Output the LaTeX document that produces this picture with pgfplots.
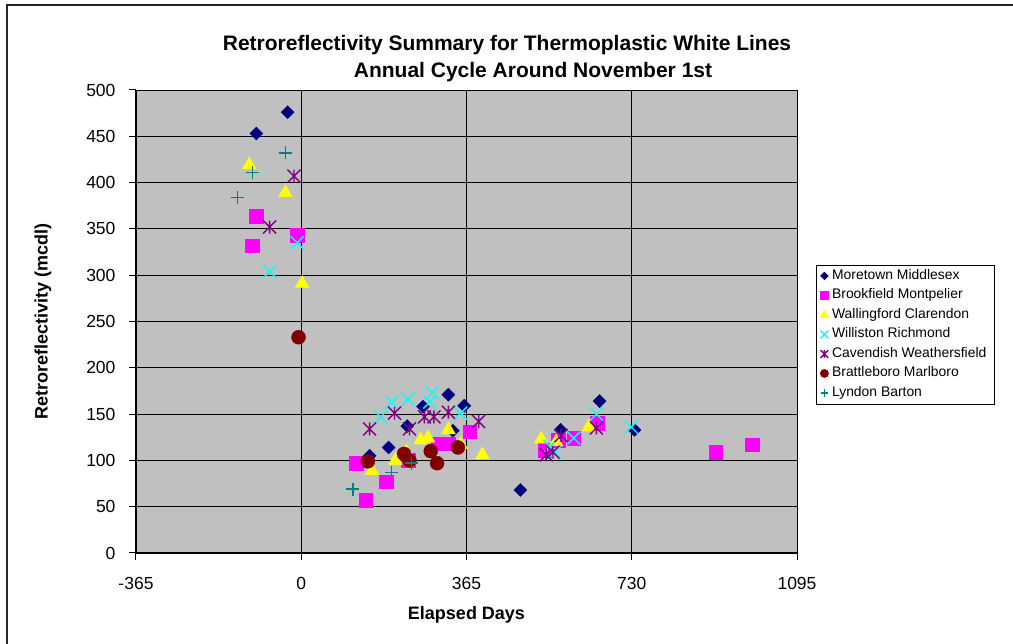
\documentclass[border=0pt]{standalone}
\usepackage{pgfplots}
\pgfplotsset{compat=1.18}
\usepackage{fontspec}
\setmainfont{Liberation Sans}

\definecolor{plotbg}{RGB}{192,192,192}
\definecolor{cnavy}{RGB}{0,0,128}
\definecolor{cmagenta}{RGB}{255,0,255}
\definecolor{cyellow}{RGB}{255,255,0}
\definecolor{ccyan}{RGB}{0,255,255}
\definecolor{cpurple}{RGB}{128,0,128}
\definecolor{cmaroon}{RGB}{128,0,0}
\definecolor{cteal}{RGB}{0,128,128}

% Excel style star: an x with a vertical bar through it
\pgfdeclareplotmark{xstar}{%
  \pgfpathmoveto{\pgfqpoint{-\pgfplotmarksize}{-\pgfplotmarksize}}%
  \pgfpathlineto{\pgfqpoint{\pgfplotmarksize}{\pgfplotmarksize}}%
  \pgfpathmoveto{\pgfqpoint{-\pgfplotmarksize}{\pgfplotmarksize}}%
  \pgfpathlineto{\pgfqpoint{\pgfplotmarksize}{-\pgfplotmarksize}}%
  \pgfpathmoveto{\pgfqpoint{0pt}{-\pgfplotmarksize}}%
  \pgfpathlineto{\pgfqpoint{0pt}{\pgfplotmarksize}}%
  \pgfusepathqstroke}
% Excel style x
\pgfdeclareplotmark{xcross}{%
  \pgfpathmoveto{\pgfqpoint{-\pgfplotmarksize}{-\pgfplotmarksize}}%
  \pgfpathlineto{\pgfqpoint{\pgfplotmarksize}{\pgfplotmarksize}}%
  \pgfpathmoveto{\pgfqpoint{-\pgfplotmarksize}{\pgfplotmarksize}}%
  \pgfpathlineto{\pgfqpoint{\pgfplotmarksize}{-\pgfplotmarksize}}%
  \pgfusepathqstroke}

\begin{document}
\begin{tikzpicture}
\path[use as bounding box] (0pt,0pt) rectangle (1013pt,644pt);
\draw[line width=2pt, black!85] (7pt,0pt) -- (7pt,639pt) -- (1013pt,639pt);

\begin{axis}[
    at={(136pt,91pt)}, anchor=south west,
    scale only axis,
    width=661pt, height=463pt,
    xmin=-365, xmax=1095,
    ymin=0, ymax=500,
    xtick={-365,0,365,730,1095},
    xticklabels={-365,0,365,730,1095},
    ytick={0,50,100,150,200,250,300,350,400,450,500},
    yticklabels={0,50,100,150,200,250,300,350,400,450,500},
    axis lines*=left,
    axis line style={black, line width=1pt},
    axis background/.style={fill=plotbg},
    tick align=outside,
    major tick length=7pt,
    tick style={black, line width=1pt},
    grid=major,
    major grid style={black, line width=0.9pt},
    ticklabel style={font=\fontsize{17.5}{20}\selectfont},
    xticklabel style={yshift=-14pt},
    yticklabel style={xshift=-10pt},
    xlabel={Elapsed Days},
    ylabel={Retroreflectivity (mcdl)},
    label style={font=\bfseries\fontsize{18}{21}\selectfont},
    xlabel style={at={(axis description cs:0.5,-0.1339)}, anchor=center},
    ylabel style={at={(axis description cs:-0.1407,0.5)}, anchor=center},
    clip=false,
    legend style={at={(axis description cs:1,0.622)}, anchor=north west,
        xshift=19pt, draw=black, fill=white,
        font=\fontsize{13.9}{15}\selectfont,
        nodes={inner sep=3.5pt, text height=9.5pt, text depth=3pt},
        inner xsep=4pt, inner ysep=1pt},
    legend cell align=left,
    legend image post style={/tikz/every mark/.append style={scale=0.6}},
]
% Moretown Middlesex
\addplot[only marks, mark=square*, mark size=4.6pt,
    mark options={rotate=45, fill=cnavy, draw=cnavy}] coordinates {
    (-30,476) (-99,453) (325,171) (269,158) (360,159) (234,137) (335,132)
    (193,114) (151,105) (484,68) (659,164) (573,133) (736,133)
};
\addlegendentry{Moretown Middlesex}
% Brookfield Montpelier
\addplot[only marks, mark=square*, mark size=6.8pt,
    mark options={fill=cmagenta, draw=cmagenta}] coordinates {
    (-99,364) (-109,332) (-9,343) (122,97) (188,77) (142,57) (302,118)
    (325,118) (372,131) (236,100) (654,140) (602,124) (567,122) (538,111)
    (915,109) (996,117)
};
\addlegendentry{Brookfield Montpelier}
% Wallingford Clarendon
\addplot[only marks, mark=triangle*, mark size=8pt,
    mark options={fill=cyellow, draw=cyellow}] coordinates {
    (-115,419) (-35,389) (2,291) (156,89) (208,100) (264,122) (280,124)
    (325,133) (352,117) (400,106) (232,109) (530,123) (635,136) (563,120)
};
\addlegendentry{Wallingford Clarendon}
% Williston Richmond
\addplot[only marks, mark=xcross, mark size=6.5pt,
    mark options={draw=ccyan, line width=1.4pt}] coordinates {
    (-9,335) (-70,304) (289,173) (284,163) (236,166) (200,163) (175,147)
    (352,151) (652,150) (729,136) (602,124) (560,109) (549,115)
};
\addlegendentry{Williston Richmond}
% Cavendish Weathersfield
\addplot[only marks, mark=xstar, mark size=6.5pt,
    mark options={draw=cpurple, line width=1.4pt}] coordinates {
    (-16,407) (-70,352) (151,134) (206,151) (239,134) (272,147) (293,147)
    (325,152) (392,142) (652,135) (574,127) (556,109) (541,106)
};
\addlegendentry{Cavendish Weathersfield}
% Brattleboro Marlboro
\addplot[only marks, mark=*, mark size=7pt,
    mark options={fill=cmaroon, draw=cmaroon}] coordinates {
    (-6,233) (147,99) (227,107) (239,100) (286,110) (300,97) (346,114)
};
\addlegendentry{Brattleboro Marlboro}
% Lyndon Barton
\addplot[only marks, mark=+, mark size=6.5pt,
    mark options={draw=cteal, line width=1.4pt}] coordinates {
    (-35,432) (-108,411) (-141,384) (114,69) (200,87) (243,97)
};
\addlegendentry{Lyndon Barton}
\end{axis}

\node[font=\bfseries\fontsize{21}{25}\selectfont] at (507pt,599pt)
    {Retroreflectivity Summary for Thermoplastic White Lines};
\node[font=\bfseries\fontsize{21}{25}\selectfont] at (533pt,572pt)
    {Annual Cycle Around November 1st};
\end{tikzpicture}
\end{document}
